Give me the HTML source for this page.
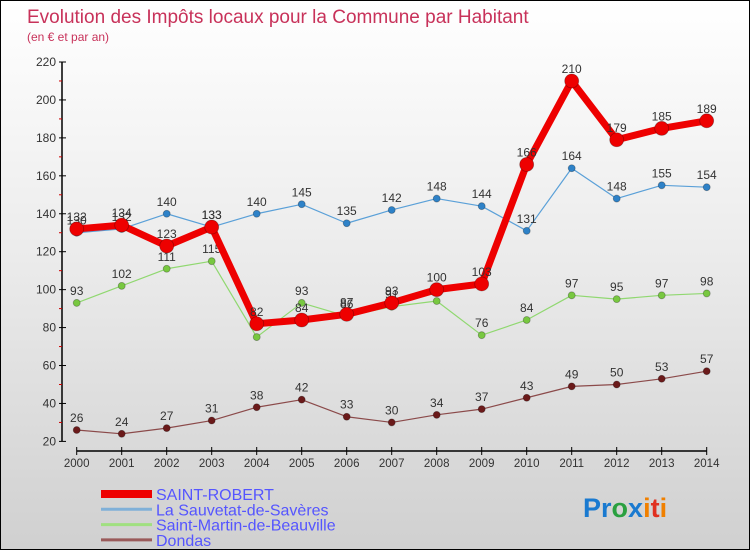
<!DOCTYPE html>
<html><head><meta charset="utf-8"><style>
body{margin:0}
#c{width:748px;height:548px;border:1px solid #000;position:relative;background:linear-gradient(#ffffff 0%,#ececec 45%,#d0d0d0 100%);font-family:"Liberation Sans",sans-serif;overflow:hidden}
svg{position:absolute;left:0;top:0}
</style></head><body>
<div id="c">
<svg id="s" width="750" height="550">
<text x="26" y="22" font-size="19" fill="#c8325a">Evolution des Impôts locaux pour la Commune par Habitant</text>
<text x="26" y="40" font-size="12" fill="#c8325a">(en € et par an)</text>
</svg>
</div>
<script>
const years=[2000,2001,2002,2003,2004,2005,2006,2007,2008,2009,2010,2011,2012,2013,2014];
const saintRobert=[132,134,123,133,82,84,87,93,100,103,166,210,179,185,189];
const sauvetat=[130,132,140,133,140,145,135,142,148,144,131,164,148,155,154];
const saintMartin=[93,102,111,115,75,93,86,91,94,76,84,97,95,97,98];
const dondas=[26,24,27,31,38,42,33,30,34,37,43,49,50,53,57];
const yTicks=[20,40,60,80,100,120,140,160,180,200,220];
const seriesNames=["SAINT-ROBERT","La Sauvetat-de-Savères","Saint-Martin-de-Beauville","Dondas"];
const NS="http://www.w3.org/2000/svg";
const s=document.getElementById('s');
const X=i=>75.7+i*(705.7-75.7)/(years.length-1);
const Y=v=>61+(220-v)*1.897;
function mk(t,a,p){const e=document.createElementNS(NS,t);for(const k in a)e.setAttribute(k,a[k]);(p||s).appendChild(e);return e;}
// axes
let ya=mk('line',{x1:61,y1:61,x2:61,y2:Y(20),stroke:'#000','stroke-width':1.5});


let xa=mk('line',{x1:75.7,y1:450,x2:705.7,y2:450,stroke:'#000','stroke-width':1.5});


yTicks.forEach((v,i)=>{
  mk('line',{x1:58,y1:Y(v),x2:65,y2:Y(v),stroke:'#000'});
  if(i<yTicks.length-1)mk('line',{x1:58,y1:Y(v+10),x2:61,y2:Y(v+10),stroke:'#c00'});
  const t=mk('text',{x:55,y:Y(v)+4,'font-size':12,fill:'#333','text-anchor':'end'});
  t.textContent=v;
  
  
});
years.forEach((y,i)=>{
  mk('line',{x1:X(i),y1:446,x2:X(i),y2:454,stroke:'#000'});
  const t=mk('text',{x:X(i),y:466,'font-size':11.5,fill:'#333','text-anchor':'middle'});
  t.textContent=y;
  
  
});
function series(data,color,lw,r,name,dot){
  const g=mk('g',{});
  
  
  mk('polyline',{points:data.map((v,i)=>X(i)+','+Y(v)).join(' '),fill:'none',stroke:color,'stroke-width':lw,'stroke-linejoin':'round'},g);
  data.forEach((v,i)=>{
    const c=mk('circle',{cx:X(i),cy:Y(v),r:r,fill:dot,stroke:'rgba(0,0,0,0.3)','stroke-width':0.8},g);
    
    
    const t=mk('text',{x:X(i),y:Y(v)-8,'font-size':12,fill:'#333','text-anchor':'middle'},g);
    t.textContent=v;
    
    
  });
}
series(dondas,'#8b4a4a',1.2,3.5,'dondas','#6b1a1a');
series(saintMartin,'#90d870',1.2,3.5,'saint-martin','#78c840');
series(sauvetat,'#5aa0d8',1.2,3.5,'sauvetat','#2e82c8');
series(saintRobert,'#ee0000',7,7,'saint-robert','#ee0000');
// legend
const lc=['#ee0000','#80b0d8','#a0e080','#9a5a5a'];
const lw=[8,3,3,3];
seriesNames.forEach((n,i)=>{
  const y=493+i*15.3;
  const l=mk('line',{x1:100,y1:y,x2:151,y2:y,stroke:lc[i],'stroke-width':lw[i]});
  
  
  const t=mk('text',{x:155,y:y+6,'font-size':16,fill:'#5555ff',textLength:0});
  t.removeAttribute('textLength');
  t.textContent=n;
  
  
});
// logo
const lg=mk('text',{x:582,y:516,'font-size':27,'font-weight':'bold'});


[['Pr','#1a7ad0'],['o','#2aa040'],['x','#1a7ad0'],['i','#f08000'],['t','#e03020'],['i','#f08000']].forEach(p=>{const ts=mk('tspan',{fill:p[1]},lg);ts.textContent=p[0];});
</script>
</body></html>
